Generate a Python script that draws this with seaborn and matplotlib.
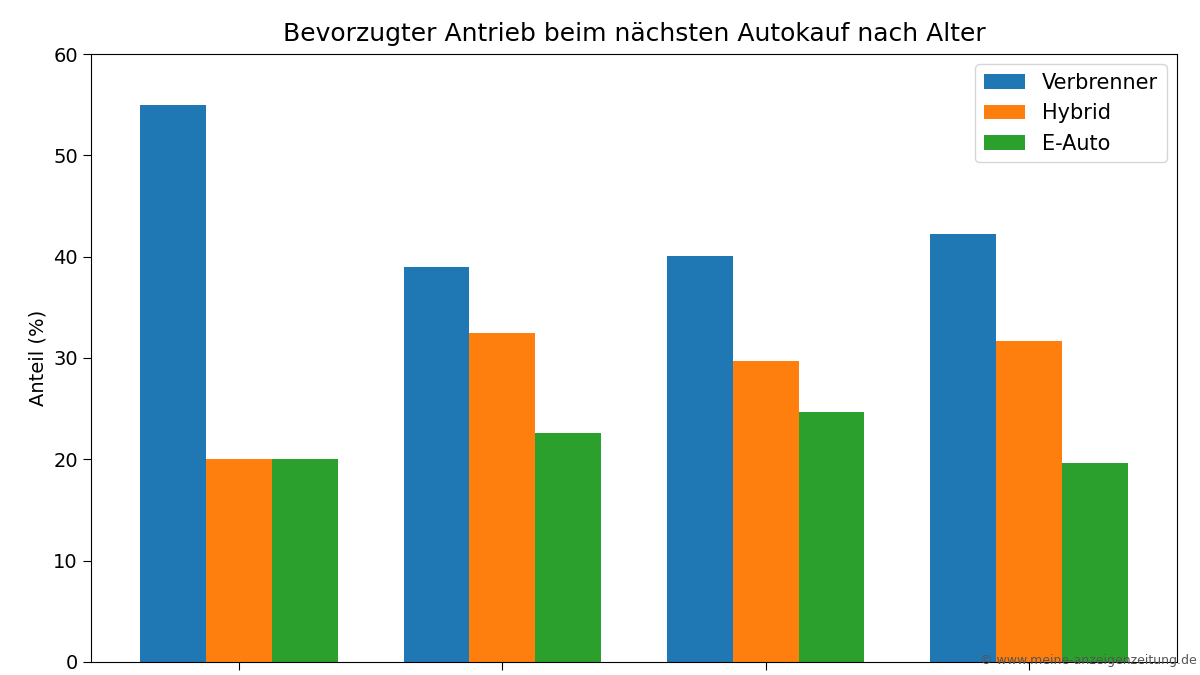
import pandas as pd
import seaborn as sns
import matplotlib.pyplot as plt

# values
age_groups = ["18-29", "30-44", "45-59", "60+"]
verbrenner = [55.0, 39.0, 40.1, 42.2]
hybrid = [20.0, 32.5, 29.7, 31.7]
e_auto = [20.0, 22.6, 24.7, 19.6]
series_names = ["Verbrenner", "Hybrid", "E-Auto"]
colors = ["#1f77b4", "#ff7f0e", "#2ca02c"]

df = pd.DataFrame({
    "Alter": age_groups * 3,
    "Antrieb": [s for s in series_names for _ in age_groups],
    "Anteil": verbrenner + hybrid + e_auto,
})

fig = plt.figure(figsize=(12, 6.75), dpi=100)
ax = fig.add_axes([0.0758, 0.0193, 0.905, 0.9007])

sns.barplot(data=df, x="Alter", y="Anteil", hue="Antrieb", hue_order=series_names,
            palette=colors, width=0.75, saturation=1, ax=ax, errorbar=None)

ax.set_xlim(-0.5625, 3.5625)
ax.set_ylim(0, 60)
ax.set_ylabel("Anteil (%)", fontsize=14)
ax.set_xlabel("Altersgruppe", fontsize=14)
ax.set_title("Bevorzugter Antrieb beim nächsten Autokauf nach Alter", fontsize=18, pad=9)
ax.tick_params(labelsize=14, length=6)
ax.legend(loc="upper right", fontsize=15, title=None)

fig.text(0.997, 0.012, "© www.meine-anzeigenzeitung.de", ha="right", va="bottom",
         fontsize=9, color="#555555")

fig.savefig("out.png", dpi=100)
